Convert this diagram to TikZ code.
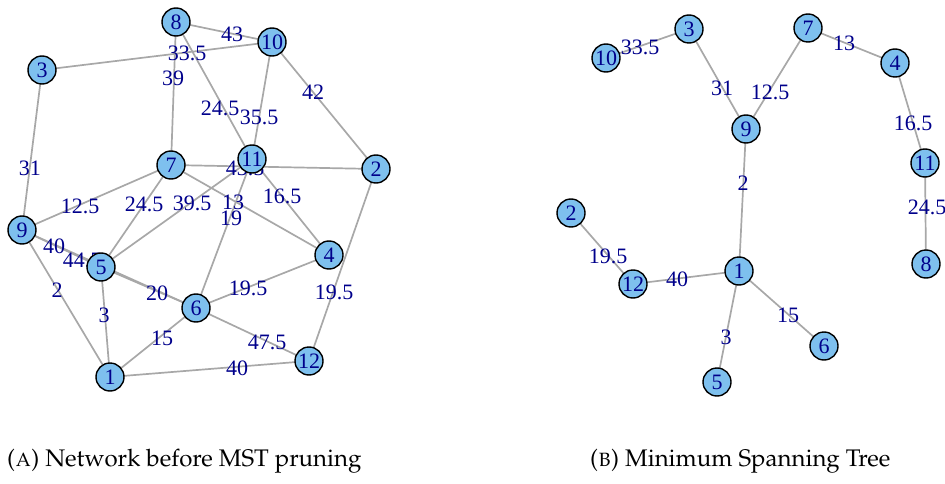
\documentclass[tikz,border=0pt]{standalone}
\usepackage[T1]{fontenc}
\usepackage{fontspec}
\setmainfont{Liberation Serif}
\definecolor{vfill}{HTML}{7EC0EE}
\definecolor{lblue}{HTML}{00008B}
\definecolor{egray}{HTML}{A8A8A8}
\pgfdeclarelayer{bg}
\pgfsetlayers{bg,main}
\tikzset{
  v/.style={circle,draw=black,line width=1.4pt,fill=vfill,minimum size=28pt,inner sep=0pt,text=lblue,font=\fontsize{22}{22}\selectfont},
  e/.style={draw=egray,line width=1.7pt},
  el/.style={text=lblue,font=\fontsize{22}{22}\selectfont,inner sep=0pt},
  capt/.style={anchor=base west,inner sep=0pt,font=\fontencoding{T1}\fontfamily{ppl}\fontsize{24}{24}\selectfont}
}
\begin{document}
\begin{tikzpicture}[x=1pt,y=-1pt]
\useasboundingbox (0,0) rectangle (945,484);
% ---- left network ----
\node[v] (a8)  at (176,22)  {8};
\node[v] (a10) at (272,42)  {10};
\node[v] (a3)  at (42,70)   {3};
\node[v] (a7)  at (171,165) {7};
\node[v] (a11) at (252,159) {11};
\node[v] (a2)  at (376,169) {2};
\node[v] (a9)  at (22,230)  {9};
\node[v] (a5)  at (101,267) {5};
\node[v] (a4)  at (329,255) {4};
\node[v] (a6)  at (196,308) {6};
\node[v] (a12) at (309,361) {12};
\node[v] (a1)  at (110,377) {1};
% ---- right tree ----
\node[v] (b10) at (606,58)  {10};
\node[v] (b3)  at (689,29)  {3};
\node[v] (b7)  at (808,28)  {7};
\node[v] (b4)  at (895,63)  {4};
\node[v] (b9)  at (746,129) {9};
\node[v] (b11) at (925,163) {11};
\node[v] (b2)  at (571,213) {2};
\node[v] (b12) at (633,284) {12};
\node[v] (b1)  at (739,271) {1};
\node[v] (b8)  at (926,264) {8};
\node[v] (b6)  at (824,346) {6};
\node[v] (b5)  at (717,382) {5};
\begin{pgfonlayer}{bg}
% left edges
\draw[e] (a8.center) -- (a10.center);
\draw[e] (a3.center) -- (a10.center);
\draw[e] (a8.center) -- (a7.center);
\draw[e] (a8.center) -- (a11.center);
\draw[e] (a10.center) -- (a11.center);
\draw[e] (a10.center) -- (a2.center);
\draw[e] (a3.center) -- (a9.center);
\draw[e] (a7.center) -- (a2.center);
\draw[e] (a11.center) -- (a4.center);
\draw[e] (a7.center) -- (a9.center);
\draw[e] (a7.center) -- (a5.center);
\draw[e] (a11.center) -- (a5.center);
\draw[e] (a7.center) -- (a4.center);
\draw[e] (a11.center) -- (a6.center);
\draw[e] (a9.center) -- (a5.center);
\draw[e] (a9.center) -- (a6.center);
\draw[e] (a9.center) -- (a1.center);
\draw[e] (a5.center) -- (a1.center);
\draw[e] (a5.center) -- (a6.center);
\draw[e] (a6.center) -- (a4.center);
\draw[e] (a2.center) -- (a12.center);
\draw[e] (a6.center) -- (a1.center);
\draw[e] (a6.center) -- (a12.center);
\draw[e] (a1.center) -- (a12.center);
% right edges
\draw[e] (b10.center) -- (b3.center);
\draw[e] (b3.center) -- (b9.center);
\draw[e] (b9.center) -- (b7.center);
\draw[e] (b7.center) -- (b4.center);
\draw[e] (b4.center) -- (b11.center);
\draw[e] (b11.center) -- (b8.center);
\draw[e] (b9.center) -- (b1.center);
\draw[e] (b2.center) -- (b12.center);
\draw[e] (b12.center) -- (b1.center);
\draw[e] (b1.center) -- (b5.center);
\draw[e] (b1.center) -- (b6.center);
% left labels
\node[el] (l1)  at (232,34)  {43};
\node[el] (l2)  at (187,53)  {33.5};
\node[el] (l3)  at (173,78)  {39};
\node[el] (l4)  at (220,108) {24.5};
\node[el] (l5)  at (259,117) {35.5};
\node[el] (l6)  at (313,92)  {42};
\node[el] (l7)  at (30,168)  {31};
\node[el] (l8)  at (245,168) {43.5};
\node[el] (l9)  at (80,206)  {12.5};
\node[el] (l10) at (144,204) {24.5};
\node[el] (l11) at (192,203) {39.5};
\node[el] (l12) at (233,202) {13};
\node[el] (l13) at (231,218) {19};
\node[el] (l14) at (282,196) {16.5};
\node[el] (l15) at (54,246)  {40};
\node[el] (l16) at (82,260)  {44.5};
\node[el] (l17) at (57,290)  {2};
\node[el] (l18) at (104,315) {3};
\node[el] (l19) at (157,293) {20};
\node[el] (l20) at (248,288) {19.5};
\node[el] (l21) at (334,292) {19.5};
\node[el] (l22) at (162,338) {15};
\node[el] (l23) at (267,342) {47.5};
\node[el] (l24) at (237,368) {40};
% right labels
\node[el] (m1)  at (640,47)  {33.5};
\node[el] (m2)  at (722,88)  {31};
\node[el] (m3)  at (770,92)  {12.5};
\node[el] (m4)  at (844,43)  {13};
\node[el] (m5)  at (913,123) {16.5};
\node[el] (m6)  at (743,183) {2};
\node[el] (m7)  at (927,207) {24.5};
\node[el] (m8)  at (608,256) {19.5};
\node[el] (m9)  at (677,279) {40};
\node[el] (m10) at (726,337) {3};
\node[el] (m11) at (788,315) {15};
\end{pgfonlayer}
% captions
\node[capt] (ca) at (7,466)   {(\textsc{a}) Network before MST pruning};
\node[capt] (cb) at (590,466) {(\textsc{b}) Minimum Spanning Tree};
\end{tikzpicture}
\end{document}
